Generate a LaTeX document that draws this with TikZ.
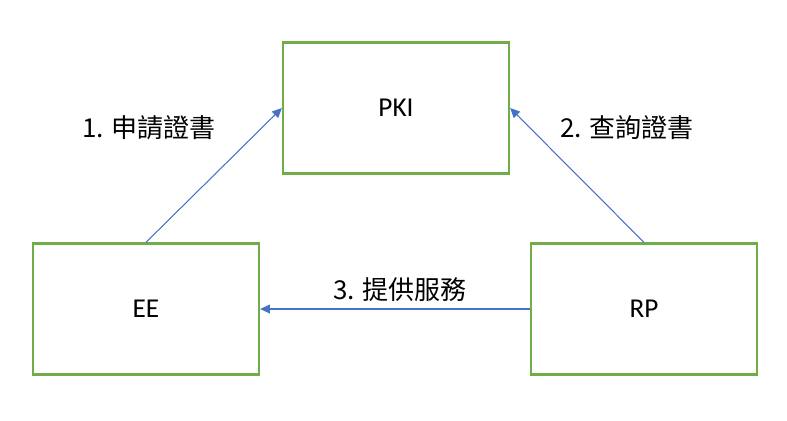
\documentclass[tikz,border=0pt]{standalone}
\usepackage{fontspec}
\setmainfont{Carlito}
\newfontfamily\cjk{Noto Sans CJK TC}
\usetikzlibrary{positioning,arrows.meta}

\tikzset{
    entity/.style={draw=boxgreen, line width=1.3pt, minimum width=226*0.02cm, minimum height=131*0.02cm, font=\fontsize{15.5}{18}\selectfont},
    flow/.style={draw=linkblue, line width=0.6pt, -{Triangle[length=5.5pt,width=5pt]}},
    steplabel/.style={font=\cjk\fontsize{14.8}{17}\selectfont}
}
\definecolor{boxgreen}{HTML}{70AD47}
\definecolor{linkblue}{HTML}{4472C4}

\begin{document}
\begin{tikzpicture}[x=0.02cm, y=-0.02cm]
    \useasboundingbox (0,0) rectangle (787,420);

    \node[entity] (pki) at (396,108) {PKI};
    \node[entity] (ee) at (146,309) {EE};
    \node[entity] (rp) at (644,309) {RP};

    \draw[flow] (ee.north) -- (pki.west);
    \draw[flow] (rp.north) -- (pki.east);
    \draw[flow] (rp.west) -- (ee.east);

    \node[steplabel] (req) at (149,128) {1. 申請證書};
    \node[steplabel] (query) at (627,128) {2. 查詢證書};
    \node[steplabel] (serve) at (400,290) {3. 提供服務};
\end{tikzpicture}
\end{document}
